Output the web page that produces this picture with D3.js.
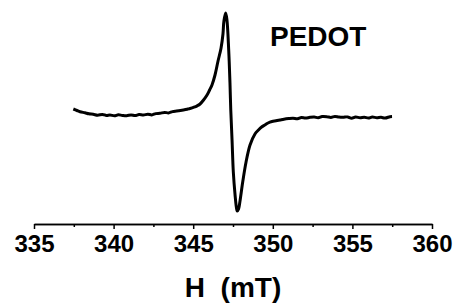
<!DOCTYPE html>
<html>
<head>
<meta charset="utf-8">
<script src="https://cdn.jsdelivr.net/npm/d3@7"></script>
<style>
  body { margin: 0; background: #fff; }
</style>
</head>
<body>
<div id="chart"></div>
<script>
// EPR spectrum of PEDOT
const fieldMT = [337.47, 337.7, 337.89, 338.2, 338.45, 338.72, 339.0, 339.3, 339.55, 339.77, 340.05, 340.3, 340.55, 340.82,
  341.1, 341.35, 341.6, 341.87, 342.15, 342.4, 342.65, 342.91, 343.2, 343.45, 343.7, 343.96, 344.2, 344.45, 344.67, 344.8,
  345.05, 345.25, 345.43, 345.65, 345.87, 346.03, 346.18, 346.37, 346.56, 346.75, 346.87, 346.93, 347.04, 347.12, 347.23,
  347.31, 347.36, 347.44, 347.52, 347.63, 347.71, 347.77, 347.85, 347.94, 348.11, 348.32, 348.57, 348.88, 349.1, 349.3,
  349.5, 349.7, 349.95, 350.2, 350.45, 350.7, 351.0, 351.27, 351.55, 351.8, 352.05, 352.34, 352.6, 352.85, 353.1, 353.39,
  353.65, 353.9, 354.15, 354.41, 354.7, 354.95, 355.2, 355.48, 355.75, 356.0, 356.25, 356.53, 356.8, 357.05, 357.36, 357.49];
const signal = [5, 3.5, 2.3, 1.2, 0.2, -0.3, -1.2, -0.4, -1.5, -1, -1.8, -0.8, -1.4, -1.7,
  -0.9, -1.6, -0.6, -1, -0.2, -0.9, 0.4, 0.7, 1.6, 1.1, 2.4, 3, 3.6, 4.2, 5, 5.5,
  6.8, 8.2, 10, 14, 19, 24, 29, 39, 53, 66, 80, 93, 101, 94, 64,
  31, 4, -26, -58, -81, -93, -97, -95, -87, -68, -48, -31, -20, -16, -13,
  -11, -9, -7.5, -6.8, -6, -5.2, -4.6, -4.3, -4.8, -3.6, -4.1, -3.3, -3.0, -3.8, -2.6, -2.7,
  -3.4, -2.5, -3.1, -3.3, -2.9, -4.2, -3.0, -3.7, -3.2, -4.0, -3.1, -3.7, -3.3, -4.1, -2.7, -2.5];
const majorTicks = [335, 340, 345, 350, 355, 360];
const minorTicks = [337.5, 342.5, 347.5, 352.5, 357.5];
const xLabel = "H  (mT)";
const sampleName = "PEDOT";

const width = 455, height = 303;
const axisY = 224;
const fontFam = "'Liberation Sans', Arial, sans-serif";

const svg = d3.select("#chart").append("svg")
  .attr("width", width)
  .attr("height", height);

// scales
const xScale = d3.scaleLinear().domain([335, 360]).range([34, 432]);
const yScale = d3.scaleLinear().domain([-100, 100]).range([214, 14]);

// minor ticks first (no labels)
svg.append("g")
  .attr("transform", "translate(0," + axisY + ")")
  .call(d3.axisBottom(xScale).tickValues(minorTicks).tickSize(3).tickSizeOuter(0).tickFormat(""))
  .call(g => g.selectAll("line,path").attr("stroke", "#000").attr("stroke-width", 1.5));

// major ticks + labels (the axis sets its own font, so override after the call)
svg.append("g")
  .attr("transform", "translate(0," + axisY + ")")
  .call(d3.axisBottom(xScale).tickValues(majorTicks).tickSize(5).tickSizeOuter(0).tickPadding(6).tickFormat(d3.format("d")))
  .attr("font-family", fontFam)
  .attr("font-size", 24)
  .attr("font-weight", "bold")
  .call(g => g.selectAll("line,path").attr("stroke", "#000").attr("stroke-width", 1.5))
  .call(g => g.selectAll("text").attr("fill", "#000"));

// spectrum line
const pts = fieldMT.map((x, i) => [x, signal[i]]);
svg.append("path")
  .datum(pts)
  .attr("fill", "none")
  .attr("stroke", "#000")
  .attr("stroke-width", 3)
  .attr("stroke-linejoin", "round")
  .attr("d", d3.line()
    .x(d => xScale(d[0]))
    .y(d => yScale(d[1]))
    .curve(d3.curveCatmullRom));

// axis label
svg.append("text")
  .attr("x", (xScale.range()[0] + xScale.range()[1]) / 2)
  .attr("y", 297)
  .attr("text-anchor", "middle")
  .attr("font-family", fontFam)
  .attr("font-weight", "bold")
  .attr("font-size", 28)
  .style("white-space", "pre")
  .text(xLabel);

// sample name
svg.append("text")
  .attr("x", 270)
  .attr("y", 46)
  .attr("font-family", fontFam)
  .attr("font-weight", "bold")
  .attr("font-size", 28)
  .text(sampleName);
</script>
</body>
</html>
